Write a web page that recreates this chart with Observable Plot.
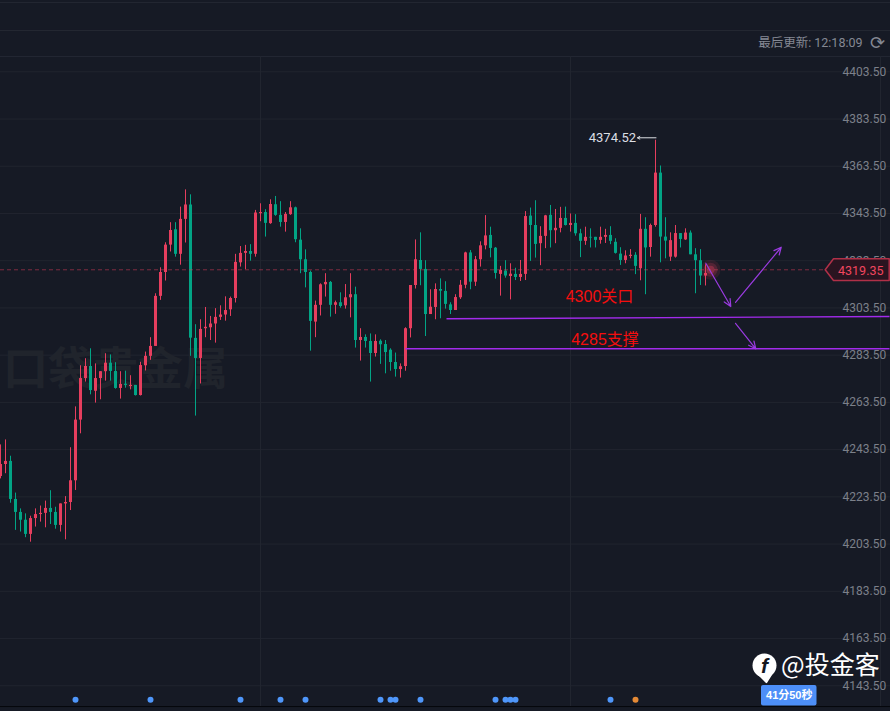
<!DOCTYPE html>
<html>
<head>
<meta charset="utf-8">
<script src="https://cdn.jsdelivr.net/npm/d3@7"></script>
<script src="https://cdn.jsdelivr.net/npm/@observablehq/plot@0.6"></script>
<style>
html,body{margin:0;padding:0;background:#161a25;overflow:hidden}
#chart svg{display:block}
</style>
</head>
<body>
<div id="chart"></div>
<script>
const opens = [4232.1,4237.2,4238.5,4222.4,4216.9,4213.6,4207.6,4214.3,4216.0,4216.5,
4218.6,4216.9,4211.4,4220.5,4221.1,4230.3,4256.0,4273.6,4278.7,4268.2,
4273.6,4276.5,4280.1,4276.6,4269.4,4271.2,4270.2,4270.7,4266.4,4279.0,
4283.0,4287.2,4308.4,4318.5,4330.1,4336.6,4326.2,4341.0,4347.1,4290.6,
4282.1,4294.7,4295.1,4296.7,4299.5,4300.5,4302.7,4307.5,4322.6,4326.6,
4327.4,4326.2,4343.4,4343.9,4339.2,4347.2,4342.7,4339.7,4343.0,4345.9,
4332.2,4323.9,4318.5,4297.5,4304.6,4313.3,4314.3,4304.6,4305.7,4304.4,
4307.8,4309.1,4289.7,4291.0,4289.3,4284.2,4289.4,4288.0,4285.6,4280.4,
4277.4,4278.7,4294.7,4313.0,4323.6,4319.8,4300.7,4303.7,4311.3,4310.5,
4304.8,4302.4,4307.8,4313.1,4326.8,4314.4,4323.9,4329.8,4334.2,4328.8,
4317.7,4319.1,4316.8,4317.7,4316.4,4317.7,4342.4,4338.4,4330.7,4333.8,
4342.7,4336.2,4337.2,4341.4,4338.4,4339.3,4334.9,4331.7,4333.4,4333.4,
4332.1,4333.4,4334.2,4331.3,4326.3,4323.6,4325.3,4325.8,4320.1,4336.8,
4329.1,4338.4,4360.6,4333.5,4325.0,4325.0,4335.0,4332.3,4335.2,4326.0,
4323.5,4317.0];
const highs = [4245.5,4247.6,4240.7,4225.1,4218.4,4216.3,4215.3,4218.4,4219.6,4221.7,
4226.1,4219.1,4220.5,4223.6,4244.3,4261.6,4279.0,4282.0,4286.2,4279.8,
4276.5,4284.1,4283.6,4280.3,4276.5,4276.7,4274.8,4270.7,4280.5,4284.8,
4290.9,4309.5,4320.5,4331.1,4339.6,4339.6,4346.2,4353.5,4351.4,4296.4,
4298.5,4303.7,4299.9,4303.2,4304.4,4308.2,4308.1,4326.2,4329.5,4330.0,
4330.3,4344.8,4347.6,4345.1,4349.3,4350.7,4348.5,4343.9,4348.5,4346.2,
4337.0,4328.1,4319.1,4306.4,4313.7,4318.0,4314.7,4306.4,4309.9,4313.4,
4318.0,4312.3,4294.7,4292.1,4292.5,4292.1,4290.0,4289.7,4286.2,4284.4,
4279.8,4295.1,4313.0,4332.3,4335.3,4323.5,4311.2,4313.7,4315.8,4314.6,
4305.7,4309.1,4315.1,4327.1,4327.8,4325.3,4331.5,4342.6,4337.7,4329.1,
4321.1,4323.5,4322.2,4320.3,4323.6,4344.3,4345.8,4348.9,4337.9,4342.7,
4346.9,4345.2,4346.1,4346.2,4343.3,4343.0,4336.8,4337.7,4337.0,4333.4,
4337.7,4336.8,4337.9,4332.8,4329.0,4327.7,4328.2,4326.9,4343.1,4341.7,
4339.0,4374.52,4363.6,4341.7,4335.3,4338.4,4335.0,4337.0,4336.1,4328.6,
4328.2,4321.8];
const lows = [4231.1,4233.3,4220.8,4209.3,4208.6,4206.2,4204.3,4210.7,4212.8,4210.4,
4211.8,4209.8,4208.6,4205.3,4217.7,4226.2,4250.2,4272.1,4266.7,4263.2,
4264.6,4272.5,4272.5,4269.1,4264.9,4269.5,4268.8,4266.2,4266.2,4276.8,
4281.3,4287.2,4306.7,4314.9,4327.2,4325.0,4321.6,4331.0,4283.0,4257.7,
4271.3,4290.9,4289.7,4288.6,4298.2,4297.9,4299.9,4305.6,4320.8,4319.7,
4323.3,4325.0,4340.0,4333.5,4338.9,4342.3,4337.7,4335.6,4342.7,4331.1,
4318.0,4312.0,4285.2,4290.9,4300.1,4308.1,4299.6,4300.8,4303.4,4303.0,
4299.3,4286.5,4281.0,4286.5,4272.1,4282.7,4279.6,4275.6,4276.7,4274.2,
4273.8,4276.7,4290.8,4311.5,4312.9,4291.4,4300.7,4298.5,4298.9,4303.0,
4300.7,4302.4,4307.1,4311.6,4311.2,4312.6,4320.8,4328.1,4324.7,4315.7,
4308.5,4316.1,4306.9,4315.1,4314.7,4315.1,4323.2,4324.6,4321.4,4328.6,
4328.9,4330.7,4335.3,4338.2,4335.6,4333.9,4324.8,4330.0,4328.9,4328.9,
4330.5,4330.8,4330.3,4326.3,4321.5,4322.2,4324.3,4317.6,4315.0,4309.1,
4325.0,4337.7,4322.6,4324.3,4323.2,4324.6,4328.9,4332.1,4326.0,4309.5,
4313.0,4312.8];
const closes = [4237.2,4238.5,4222.4,4216.9,4213.6,4207.6,4214.3,4216.0,4216.5,4218.6,
4216.9,4211.4,4220.5,4221.1,4230.3,4256.0,4273.6,4278.7,4268.5,4273.6,
4276.5,4280.1,4276.6,4269.4,4271.1,4270.7,4270.7,4266.4,4279.1,4283.0,
4287.2,4308.4,4318.5,4330.1,4336.3,4326.2,4341.0,4347.1,4290.7,4282.1,
4294.4,4295.3,4296.7,4299.5,4300.5,4302.4,4307.5,4322.8,4326.6,4327.4,
4326.2,4343.7,4343.9,4339.3,4347.3,4342.7,4339.7,4343.1,4345.9,4332.4,
4323.9,4318.5,4297.8,4304.6,4313.3,4314.3,4304.6,4305.7,4304.1,4307.8,
4309.1,4289.7,4291.0,4289.3,4284.2,4289.3,4287.9,4284.6,4280.4,4277.4,
4278.6,4294.7,4313.0,4323.9,4319.8,4300.7,4303.8,4311.3,4310.6,4305.0,
4302.4,4307.9,4313.1,4326.8,4314.4,4323.9,4329.8,4334.0,4328.7,4318.1,
4319.4,4317.0,4317.8,4316.4,4317.7,4342.2,4338.4,4330.4,4333.8,4342.5,
4336.2,4337.2,4341.4,4338.4,4339.3,4334.9,4331.7,4333.4,4333.1,4332.1,
4333.4,4334.2,4331.7,4326.6,4323.6,4325.5,4325.8,4321.1,4336.8,4328.9,
4338.4,4360.6,4333.5,4331.8,4332.0,4335.0,4332.5,4335.2,4326.0,4323.5,
4317.0,4318.1];

const priceTicks = d3.range(14).map(i => 4143.5 + 20 * i);
const headerRules = [4432.8, 4421, 4410];
const bottomRule = [4134.7];
const timeGrid = [52, 114, 176];
const lastPrice = 4319.35;
const highLabel = "4374.52";

const blueEvents = [15, 30, 48, 56, 61, 76, 78, 79, 84, 99, 101, 102, 103, 122];
const orangeEvents = [127];

const trendLines = [
  {x1: 89.2, y1: 4298.9, x2: 177.8, y2: 4299.9},
  {x1: 81, y1: 4286.2, x2: 177.8, y2: 4286.2}
];
const trendArrows = [
  {x1: 141.06, y1: 4322.45, x2: 146.06, y2: 4304.1},
  {x1: 147, y1: 4305.9, x2: 156.14, y2: 4329.2},
  {x1: 147, y1: 4297.0, x2: 151.06, y2: 4286.2}
];
const redLabels = [
  {x: 119.8, y: 4308.0, t: "4300关口"},
  {x: 120.9, y: 4289.9, t: "4285支撑"}
];
const tagShape = [
  {x: 164.94, y: 4319.65}, {x: 166.6, y: 4324.3}, {x: 177.74, y: 4324.3},
  {x: 177.74, y: 4315.1}, {x: 166.6, y: 4315.1}, {x: 164.94, y: 4319.65}
];
const logoTail = [
  {x: 151.6, y: 4148.3}, {x: 154.2, y: 4148.3}, {x: 153.2, y: 4144.9}, {x: 151.6, y: 4148.3}
];

const candles = opens.map((o, i) => ({
  i, o, h: highs[i], l: lows[i], c: closes[i], up: closes[i] >= o
}));
const RED = "#e63e5e", GREEN = "#02a485", GRID = "#21252f", PURPLE = "#a22bec";
const CJK = "'Liberation Sans','Noto Sans CJK SC',sans-serif";

const chart = Plot.plot({
  width: 890,
  height: 711,
  marginLeft: 0,
  marginRight: 60,
  marginTop: 0,
  marginBottom: 0,
  style: {background: "#161a25", fontFamily: "Roboto,sans-serif", overflow: "visible"},
  x: {domain: [0, 166], axis: null},
  y: {domain: [4132.6, 4433.69], axis: null},
  marks: [
    Plot.ruleY(priceTicks, {x1: 0, x2: 178, stroke: GRID, strokeWidth: 1}),
    Plot.ruleY(headerRules, {x1: 0, x2: 178, stroke: "#242833", strokeWidth: 1}),
    Plot.ruleX(timeGrid, {y1: 4134.7, y2: 4410, stroke: GRID, strokeWidth: 1}),
    Plot.ruleY(bottomRule, {x1: 0, x2: 178, stroke: "#06080c", strokeWidth: 1}),
    Plot.text(["口袋贵金属"], {x: 23, y: 4277, text: d => d, fontSize: 45, fontWeight: "bold",
      fill: "#20242c", fontFamily: CJK}),
    Plot.axisY(priceTicks, {anchor: "right", tickSize: 0, tickPadding: 12, label: null,
      tickFormat: d => d.toFixed(2), fill: "#7c808a", fontSize: 12}),
    Plot.ruleX(candles, {x: "i", y1: "l", y2: "h", stroke: d => d.up ? RED : GREEN, strokeWidth: 1}),
    Plot.ruleX(candles, {x: "i", y1: "o", y2: "c", stroke: d => d.up ? RED : GREEN, strokeWidth: 3}),
    Plot.ruleY([lastPrice + 0.3], {x1: 0, x2: 165, stroke: "#e63e5e", strokeOpacity: 0.5,
      strokeDasharray: "4 3", strokeWidth: 1}),
    Plot.dot([0], {x: 142, y: 4319.7, r: 10, fill: RED, fillOpacity: 0.12}),
    Plot.dot([0], {x: 142, y: 4319.7, r: 7, fill: RED, fillOpacity: 0.2}),
    Plot.dot([0], {x: 142, y: 4319.7, r: 4, fill: RED, fillOpacity: 0.35}),
    Plot.line(tagShape, {x: "x", y: "y", fill: "#2a1420", stroke: "#b03048", strokeWidth: 1.5}),
    Plot.text([lastPrice], {x: 176.6, y: d => d, text: d => d.toFixed(2), textAnchor: "end",
      fill: "#f2465f", fontSize: 12.5}),
    Plot.text([highLabel], {x: 127.1, y: 4375.7, text: d => d, textAnchor: "end",
      fill: "#dcdfe4", fontSize: 13}),
    Plot.arrow([0], {x1: 131.1, y1: 4375.55, x2: 127.4, y2: 4375.55, bend: 0, stroke: "#dcdfe4",
      strokeWidth: 1, headLength: 4}),
    Plot.link(trendLines, {x1: "x1", y1: "y1", x2: "x2", y2: "y2", stroke: PURPLE, strokeWidth: 1.4}),
    Plot.arrow(trendArrows, {x1: "x1", y1: "y1", x2: "x2", y2: "y2", bend: 0, stroke: "#9a3be0",
      strokeWidth: 1.2, headLength: 10, headAngle: 50}),
    Plot.text(redLabels, {x: "x", y: "y", text: "t", fill: "#f50e0e", fontSize: 16, fontFamily: CJK}),
    Plot.dot(blueEvents, {x: d => d, y: 4137.6, r: 3, fill: "#4f97fb"}),
    Plot.dot(orangeEvents, {x: d => d, y: 4137.6, r: 3, fill: "#e58a36"}),
    Plot.text(["最后更新: 12:18:09"], {x: 172.4, y: 4415.7, text: d => d, textAnchor: "end",
      fill: "#858994", fontSize: 12.5, fontFamily: "Roboto,'Noto Sans CJK SC',sans-serif"}),
    Plot.text(["⟳"], {x: 175.4, y: 4415.7, text: d => d, fill: "#858994", fontSize: 18,
      fontFamily: "'DejaVu Sans',sans-serif"}),
    Plot.rect([0], {x1: 152.2, x2: 163.3, y1: 4134.9, y2: 4143.6, fill: "#4d8ff8", rx: 2}),
    Plot.text(["41分50秒"], {x: 157.75, y: 4139.3, text: d => d, fill: "#ffffff", fontSize: 11,
      fontWeight: "bold", fontFamily: CJK}),
    Plot.line(logoTail, {x: "x", y: "y", fill: "#ffffff", stroke: "#ffffff"}),
    Plot.dot([0], {x: 152.8, y: 4152.1, r: 12, fill: "#ffffff"}),
    Plot.text(["f"], {x: 152.8, y: 4151.8, text: d => d, fill: "#14171f", fontSize: 21,
      fontWeight: "bold", fontStyle: "italic", fontFamily: "'Liberation Sans',sans-serif"}),
    Plot.text(["@投金客"], {x: 156.1, y: 4152, text: d => d, textAnchor: "start", fill: "#ffffff",
      fontSize: 25, fontFamily: "'Noto Sans CJK SC',sans-serif"})
  ]
});
document.getElementById("chart").appendChild(chart);
</script>
</body>
</html>
